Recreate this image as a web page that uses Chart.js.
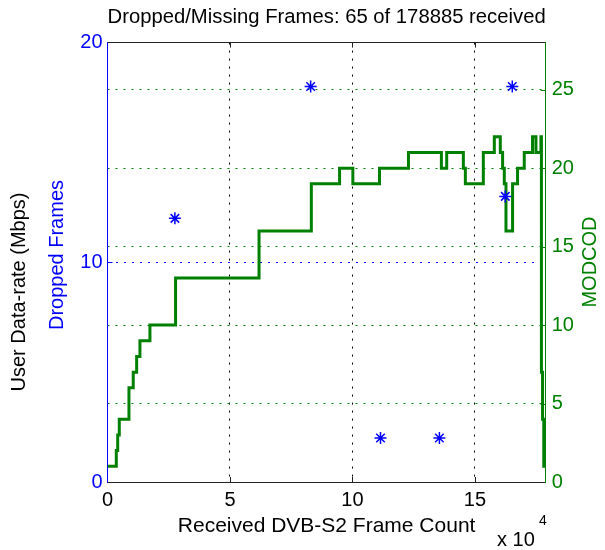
<!DOCTYPE html>
<html lang="en">
<head>
  <meta charset="UTF-8">
  <title>Dropped/Missing Frames</title>
  <script src="https://cdn.jsdelivr.net/npm/chart.js"></script>
  <style>
    body { margin: 0; background: #fff; }
  </style>
</head>
<body>
  <canvas id="frameChart" width="605" height="550"></canvas>

  <script>
    // dropped frames (left axis)
    const dropFrame = [27510, 82930, 111450, 135490, 162390, 165240];
    const dropCount = [12, 18, 2, 2, 13, 18];

    // MODCOD steps (right axis): each value holds from its frame to the next
    const modcodFrame = [0, 3590, 4160, 4810, 8760, 10510, 11900, 13240, 17320, 27790,
      61860, 83210, 94740, 100160, 111040, 122860, 136300, 138470, 145270, 146090,
      153420, 157910, 160350, 161290, 161980, 162670, 165360, 167400, 170130, 173510,
      174900, 176930, 177140, 177600, 178100, 178885];
    const modcodValue = [1, 2, 3, 4, 6, 7, 8, 9, 10, 13,
      16, 19, 20, 19, 20, 21, 20, 21, 20, 19,
      21, 22, 21, 20, 19, 16, 19, 20, 21, 22,
      21, 22, 7, 4, 1, 1];

    const totalFrames = 178885;
    const xTicks = [0, 50000, 100000, 150000];
    const leftTicks = [0, 10, 20];
    const rightTicks = [0, 5, 10, 15, 20, 25];

    const BLUE = '#0000ff';
    const GREEN = '#008000';

    Chart.defaults.font.family = '"Liberation Sans", Arial, sans-serif';
    Chart.defaults.font.size = 20;

    // labels that the scales can't draw the way MATLAB did, plus inward tick marks
    const extraText = {
      id: 'extraText',
      afterDraw(chart) {
        const ctx = chart.ctx;
        const area = chart.chartArea;
        const sx = chart.scales.x, sy = chart.scales.y, sy2 = chart.scales.y2;
        ctx.save();

        ctx.lineWidth = 1;
        ctx.strokeStyle = '#222';
        xTicks.slice(1).forEach(v => {
          const px = Math.round(sx.getPixelForValue(v)) + 0.5;
          ctx.beginPath();
          ctx.moveTo(px, area.bottom); ctx.lineTo(px, area.bottom - 5);
          ctx.moveTo(px, area.top); ctx.lineTo(px, area.top + 5);
          ctx.stroke();
        });
        ctx.strokeStyle = BLUE;
        leftTicks.slice(1, -1).forEach(v => {
          const py = Math.round(sy.getPixelForValue(v)) + 0.5;
          ctx.beginPath();
          ctx.moveTo(area.left, py); ctx.lineTo(area.left + 5, py);
          ctx.stroke();
        });
        ctx.strokeStyle = GREEN;
        rightTicks.slice(1).forEach(v => {
          const py = Math.round(sy2.getPixelForValue(v)) + 0.5;
          ctx.beginPath();
          ctx.moveTo(area.right, py); ctx.lineTo(area.right - 5, py);
          ctx.stroke();
        });

        ctx.font = '20px "Liberation Sans", Arial, sans-serif';
        ctx.textAlign = 'center';
        ctx.textBaseline = 'middle';

        function vertical(text, x, y, color) {
          ctx.save();
          ctx.translate(x, y);
          ctx.rotate(-Math.PI / 2);
          ctx.fillStyle = color;
          ctx.fillText(text, 0, 0);
          ctx.restore();
        }
        vertical('User Data-rate (Mbps)', 19, 292, '#000');
        vertical('Dropped Frames', 57, 255, BLUE);
        vertical('MODCOD', 590, 262, GREEN);

        ctx.fillStyle = '#000';
        ctx.textAlign = 'left';
        ctx.fillText('x 10', 497, 540);
        ctx.font = '14px "Liberation Sans", Arial, sans-serif';
        ctx.fillText('4', 539, 521);
        ctx.restore();
      }
    };

    const ctx = document.getElementById('frameChart').getContext('2d');
    new Chart(ctx, {
      type: 'line',
      data: {
        datasets: [{
          label: 'Dropped Frames',
          type: 'scatter',
          data: dropFrame.map((f, i) => ({ x: f, y: dropCount[i] })),
          yAxisID: 'y',
          showLine: false,
          pointStyle: 'star',
          pointRadius: 6,
          borderColor: BLUE,
          borderWidth: 1.5,
          order: 0
        }, {
          label: 'MODCOD',
          data: modcodFrame.map((f, i) => ({ x: f, y: modcodValue[i] })),
          yAxisID: 'y2',
          stepped: true,
          borderColor: GREEN,
          borderWidth: 3,
          pointRadius: 0,
          fill: false,
          order: 1
        }]
      },
      options: {
        responsive: false,
        animation: false,
        layout: { padding: 0 },
        plugins: {
          legend: { display: false },
          tooltip: { enabled: false },
          title: {
            display: true,
            text: 'Dropped/Missing Frames: 65 of ' + totalFrames + ' received',
            color: '#000',
            font: { size: 20.5, weight: 'normal' },
            padding: { top: 5, bottom: 5 },
            fullSize: false
          }
        },
        scales: {
          x: {
            type: 'linear',
            position: 'bottom',
            min: 0,
            max: totalFrames,
            afterBuildTicks: s => { s.ticks = xTicks.map(v => ({ value: v })); },
            ticks: {
              color: '#000',
              padding: 6,
              maxRotation: 0,
              callback: v => v / 1e4
            },
            grid: {
              color: c => (c.tick && c.tick.value > 0) ? '#000' : 'rgba(0,0,0,0)',
              drawTicks: false
            },
            border: { color: '#222', dash: [2, 6] },
            title: {
              display: true,
              text: 'Received DVB-S2 Frame Count',
              color: '#000',
              font: { size: 21 },
              padding: { top: 0, bottom: 11 }
            },
            afterFit: s => { s.height = 68; }
          },
          xTop: {
            type: 'linear',
            position: 'top',
            min: 0,
            max: 1,
            ticks: { display: false },
            grid: { drawOnChartArea: false, drawTicks: false },
            border: { color: '#222' },
            afterFit: s => { s.height = 8; }
          },
          y: {
            position: 'left',
            min: 0,
            max: 20,
            afterBuildTicks: s => { s.ticks = leftTicks.map(v => ({ value: v })); },
            ticks: { color: BLUE, padding: 5 },
            grid: {
              color: c => (c.tick && c.tick.value === 10) ? BLUE : 'rgba(0,0,0,0)',
              drawTicks: false
            },
            border: { color: BLUE, dash: [2, 6] },
            afterFit: s => { s.width = 107.5; }
          },
          y2: {
            position: 'right',
            min: 0,
            max: 28,
            afterBuildTicks: s => { s.ticks = rightTicks.map(v => ({ value: v })); },
            ticks: { color: GREEN, padding: 6 },
            grid: {
              color: c => (c.tick && c.tick.value > 0) ? GREEN : 'rgba(0,0,0,0)',
              drawTicks: false
            },
            border: { color: GREEN, dash: [2, 6] },
            afterFit: s => { s.width = 59.3; }
          }
        }
      },
      plugins: [extraText]
    });
  </script>
</body>
</html>
